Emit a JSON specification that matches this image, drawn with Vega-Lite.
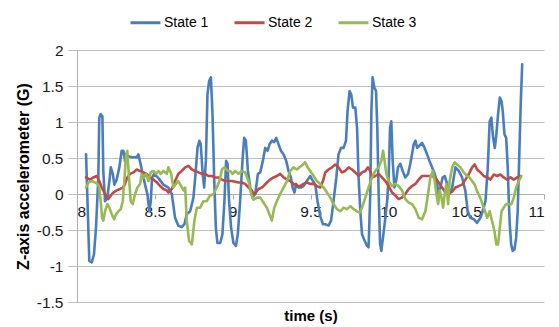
{
  "$schema": "https://vega.github.io/schema/vega-lite/v6.json",
  "width": 467,
  "height": 252,
  "autosize": {"type": "none"},
  "padding": {"left": 77, "top": 50, "right": 15, "bottom": 25},
  "background": "white",
  "config": {
    "view": {"stroke": null},
    "font": "Liberation Sans",
    "locale": {"number": {"decimal": ".", "thousands": ",", "grouping": [3], "currency": ["$", ""], "minus": "-"}}
  },
  "data": {"values": [
    {"time":8.058,"g":0.55,"state":"State 1"},{"time":8.066,"g":0,"state":"State 1"},{"time":8.079,"g":-0.93,"state":"State 1"},{"time":8.095,"g":-0.95,"state":"State 1"},{"time":8.109,"g":-0.84,"state":"State 1"},{"time":8.122,"g":-0.47,"state":"State 1"},{"time":8.137,"g":0.23,"state":"State 1"},{"time":8.143,"g":1.06,"state":"State 1"},{"time":8.152,"g":1.11,"state":"State 1"},{"time":8.163,"g":1.08,"state":"State 1"},{"time":8.169,"g":0.32,"state":"State 1"},{"time":8.180,"g":-0.1,"state":"State 1"},{"time":8.195,"g":-0.05,"state":"State 1"},{"time":8.208,"g":0.18,"state":"State 1"},{"time":8.217,"g":0.37,"state":"State 1"},{"time":8.230,"g":0.28,"state":"State 1"},{"time":8.240,"g":0.13,"state":"State 1"},{"time":8.255,"g":0.2,"state":"State 1"},{"time":8.272,"g":0.37,"state":"State 1"},{"time":8.287,"g":0.6,"state":"State 1"},{"time":8.298,"g":0.6,"state":"State 1"},{"time":8.309,"g":0.45,"state":"State 1"},{"time":8.320,"g":0.53,"state":"State 1"},{"time":8.352,"g":0.51,"state":"State 1"},{"time":8.384,"g":0.51,"state":"State 1"},{"time":8.394,"g":0.55,"state":"State 1"},{"time":8.405,"g":0.45,"state":"State 1"},{"time":8.423,"g":0.27,"state":"State 1"},{"time":8.437,"g":0.13,"state":"State 1"},{"time":8.452,"g":0,"state":"State 1"},{"time":8.465,"g":-0.24,"state":"State 1"},{"time":8.474,"g":-0.1,"state":"State 1"},{"time":8.482,"g":0.22,"state":"State 1"},{"time":8.495,"g":0.28,"state":"State 1"},{"time":8.523,"g":0.22,"state":"State 1"},{"time":8.555,"g":0.13,"state":"State 1"},{"time":8.587,"g":0.09,"state":"State 1"},{"time":8.609,"g":0,"state":"State 1"},{"time":8.630,"g":-0.33,"state":"State 1"},{"time":8.651,"g":-0.44,"state":"State 1"},{"time":8.673,"g":-0.46,"state":"State 1"},{"time":8.690,"g":-0.42,"state":"State 1"},{"time":8.705,"g":-0.28,"state":"State 1"},{"time":8.727,"g":-0.24,"state":"State 1"},{"time":8.748,"g":-0.05,"state":"State 1"},{"time":8.763,"g":0.32,"state":"State 1"},{"time":8.774,"g":0.64,"state":"State 1"},{"time":8.786,"g":0.74,"state":"State 1"},{"time":8.795,"g":0.69,"state":"State 1"},{"time":8.806,"g":0.32,"state":"State 1"},{"time":8.817,"g":0.09,"state":"State 1"},{"time":8.828,"g":0.46,"state":"State 1"},{"time":8.838,"g":1.38,"state":"State 1"},{"time":8.849,"g":1.57,"state":"State 1"},{"time":8.860,"g":1.62,"state":"State 1"},{"time":8.870,"g":1.15,"state":"State 1"},{"time":8.881,"g":0.23,"state":"State 1"},{"time":8.892,"g":-0.47,"state":"State 1"},{"time":8.902,"g":-0.68,"state":"State 1"},{"time":8.920,"g":-0.68,"state":"State 1"},{"time":8.934,"g":-0.56,"state":"State 1"},{"time":8.947,"g":-0.1,"state":"State 1"},{"time":8.958,"g":0.46,"state":"State 1"},{"time":8.967,"g":0.42,"state":"State 1"},{"time":8.977,"g":-0.1,"state":"State 1"},{"time":8.990,"g":-0.47,"state":"State 1"},{"time":9.005,"g":-0.68,"state":"State 1"},{"time":9.021,"g":-0.72,"state":"State 1"},{"time":9.033,"g":-0.56,"state":"State 1"},{"time":9.048,"g":-0.1,"state":"State 1"},{"time":9.063,"g":0.46,"state":"State 1"},{"time":9.074,"g":0.78,"state":"State 1"},{"time":9.085,"g":0.74,"state":"State 1"},{"time":9.098,"g":0.32,"state":"State 1"},{"time":9.113,"g":0.09,"state":"State 1"},{"time":9.127,"g":-0.05,"state":"State 1"},{"time":9.145,"g":0,"state":"State 1"},{"time":9.162,"g":0.28,"state":"State 1"},{"time":9.177,"g":0.3,"state":"State 1"},{"time":9.194,"g":0.46,"state":"State 1"},{"time":9.209,"g":0.64,"state":"State 1"},{"time":9.224,"g":0.6,"state":"State 1"},{"time":9.237,"g":0.69,"state":"State 1"},{"time":9.252,"g":0.74,"state":"State 1"},{"time":9.267,"g":0.72,"state":"State 1"},{"time":9.280,"g":0.78,"state":"State 1"},{"time":9.295,"g":0.69,"state":"State 1"},{"time":9.310,"g":0.6,"state":"State 1"},{"time":9.327,"g":0.55,"state":"State 1"},{"time":9.344,"g":0.46,"state":"State 1"},{"time":9.359,"g":0.32,"state":"State 1"},{"time":9.374,"g":0.23,"state":"State 1"},{"time":9.385,"g":0.09,"state":"State 1"},{"time":9.397,"g":0.02,"state":"State 1"},{"time":9.408,"g":0.14,"state":"State 1"},{"time":9.423,"g":0.09,"state":"State 1"},{"time":9.439,"g":0.09,"state":"State 1"},{"time":9.455,"g":0.11,"state":"State 1"},{"time":9.477,"g":0.18,"state":"State 1"},{"time":9.498,"g":0.25,"state":"State 1"},{"time":9.516,"g":0.18,"state":"State 1"},{"time":9.531,"g":0.13,"state":"State 1"},{"time":9.545,"g":-0.1,"state":"State 1"},{"time":9.563,"g":-0.31,"state":"State 1"},{"time":9.580,"g":-0.42,"state":"State 1"},{"time":9.595,"g":-0.42,"state":"State 1"},{"time":9.616,"g":-0.44,"state":"State 1"},{"time":9.632,"g":-0.37,"state":"State 1"},{"time":9.648,"g":-0.1,"state":"State 1"},{"time":9.666,"g":0.23,"state":"State 1"},{"time":9.680,"g":0.55,"state":"State 1"},{"time":9.696,"g":0.64,"state":"State 1"},{"time":9.713,"g":0.64,"state":"State 1"},{"time":9.728,"g":0.74,"state":"State 1"},{"time":9.738,"g":1.15,"state":"State 1"},{"time":9.751,"g":1.43,"state":"State 1"},{"time":9.762,"g":1.38,"state":"State 1"},{"time":9.773,"g":1.2,"state":"State 1"},{"time":9.788,"g":1.2,"state":"State 1"},{"time":9.799,"g":0.92,"state":"State 1"},{"time":9.809,"g":0.23,"state":"State 1"},{"time":9.820,"g":-0.24,"state":"State 1"},{"time":9.831,"g":-0.56,"state":"State 1"},{"time":9.848,"g":-0.65,"state":"State 1"},{"time":9.863,"g":-0.72,"state":"State 1"},{"time":9.873,"g":-0.74,"state":"State 1"},{"time":9.884,"g":0,"state":"State 1"},{"time":9.891,"g":1.15,"state":"State 1"},{"time":9.899,"g":1.62,"state":"State 1"},{"time":9.910,"g":1.48,"state":"State 1"},{"time":9.921,"g":1.43,"state":"State 1"},{"time":9.929,"g":0.92,"state":"State 1"},{"time":9.938,"g":0,"state":"State 1"},{"time":9.947,"g":-0.69,"state":"State 1"},{"time":9.955,"g":-0.79,"state":"State 1"},{"time":9.966,"g":-0.6,"state":"State 1"},{"time":9.981,"g":-0.33,"state":"State 1"},{"time":9.992,"g":-0.1,"state":"State 1"},{"time":10.002,"g":0.23,"state":"State 1"},{"time":10.011,"g":0.92,"state":"State 1"},{"time":10.019,"g":1.01,"state":"State 1"},{"time":10.028,"g":0.46,"state":"State 1"},{"time":10.039,"g":0.09,"state":"State 1"},{"time":10.050,"g":0.18,"state":"State 1"},{"time":10.062,"g":0.37,"state":"State 1"},{"time":10.077,"g":0.42,"state":"State 1"},{"time":10.092,"g":0.32,"state":"State 1"},{"time":10.109,"g":0.23,"state":"State 1"},{"time":10.127,"g":0.28,"state":"State 1"},{"time":10.141,"g":0.42,"state":"State 1"},{"time":10.152,"g":0.55,"state":"State 1"},{"time":10.163,"g":0.69,"state":"State 1"},{"time":10.174,"g":0.74,"state":"State 1"},{"time":10.185,"g":0.64,"state":"State 1"},{"time":10.199,"g":0.67,"state":"State 1"},{"time":10.217,"g":0.71,"state":"State 1"},{"time":10.233,"g":0.64,"state":"State 1"},{"time":10.249,"g":0.55,"state":"State 1"},{"time":10.264,"g":0.46,"state":"State 1"},{"time":10.281,"g":0.37,"state":"State 1"},{"time":10.298,"g":0.28,"state":"State 1"},{"time":10.313,"g":0.14,"state":"State 1"},{"time":10.323,"g":0,"state":"State 1"},{"time":10.334,"g":0.09,"state":"State 1"},{"time":10.349,"g":0.23,"state":"State 1"},{"time":10.362,"g":0.25,"state":"State 1"},{"time":10.378,"g":0.14,"state":"State 1"},{"time":10.392,"g":0,"state":"State 1"},{"time":10.410,"g":0.09,"state":"State 1"},{"time":10.431,"g":0.37,"state":"State 1"},{"time":10.452,"g":0.32,"state":"State 1"},{"time":10.474,"g":0.23,"state":"State 1"},{"time":10.495,"g":0.04,"state":"State 1"},{"time":10.510,"g":-0.24,"state":"State 1"},{"time":10.527,"g":-0.33,"state":"State 1"},{"time":10.549,"g":-0.35,"state":"State 1"},{"time":10.570,"g":-0.4,"state":"State 1"},{"time":10.592,"g":-0.33,"state":"State 1"},{"time":10.606,"g":-0.24,"state":"State 1"},{"time":10.624,"g":-0.1,"state":"State 1"},{"time":10.639,"g":0.37,"state":"State 1"},{"time":10.651,"g":1.01,"state":"State 1"},{"time":10.662,"g":1.06,"state":"State 1"},{"time":10.673,"g":0.78,"state":"State 1"},{"time":10.684,"g":0.64,"state":"State 1"},{"time":10.694,"g":0.83,"state":"State 1"},{"time":10.705,"g":1.11,"state":"State 1"},{"time":10.716,"g":1.34,"state":"State 1"},{"time":10.727,"g":1.29,"state":"State 1"},{"time":10.735,"g":1.15,"state":"State 1"},{"time":10.746,"g":0.83,"state":"State 1"},{"time":10.757,"g":0.78,"state":"State 1"},{"time":10.767,"g":0.37,"state":"State 1"},{"time":10.774,"g":-0.1,"state":"State 1"},{"time":10.780,"g":-0.42,"state":"State 1"},{"time":10.789,"g":-0.7,"state":"State 1"},{"time":10.799,"g":-0.79,"state":"State 1"},{"time":10.810,"g":-0.77,"state":"State 1"},{"time":10.821,"g":-0.61,"state":"State 1"},{"time":10.831,"g":-0.24,"state":"State 1"},{"time":10.842,"g":0.6,"state":"State 1"},{"time":10.851,"g":1.29,"state":"State 1"},{"time":10.860,"g":1.8,"state":"State 1"},

    {"time":8.058,"g":0.23,"state":"State 2"},{"time":8.084,"g":0.2,"state":"State 2"},{"time":8.105,"g":0.23,"state":"State 2"},{"time":8.127,"g":0.25,"state":"State 2"},{"time":8.143,"g":0.18,"state":"State 2"},{"time":8.159,"g":0.09,"state":"State 2"},{"time":8.180,"g":0,"state":"State 2"},{"time":8.201,"g":-0.07,"state":"State 2"},{"time":8.217,"g":-0.02,"state":"State 2"},{"time":8.233,"g":0.02,"state":"State 2"},{"time":8.255,"g":0.05,"state":"State 2"},{"time":8.277,"g":0.07,"state":"State 2"},{"time":8.294,"g":0.09,"state":"State 2"},{"time":8.309,"g":0.14,"state":"State 2"},{"time":8.323,"g":0.23,"state":"State 2"},{"time":8.341,"g":0.28,"state":"State 2"},{"time":8.362,"g":0.3,"state":"State 2"},{"time":8.384,"g":0.34,"state":"State 2"},{"time":8.405,"g":0.32,"state":"State 2"},{"time":8.426,"g":0.3,"state":"State 2"},{"time":8.448,"g":0.28,"state":"State 2"},{"time":8.469,"g":0.23,"state":"State 2"},{"time":8.491,"g":0.2,"state":"State 2"},{"time":8.513,"g":0.16,"state":"State 2"},{"time":8.534,"g":0.11,"state":"State 2"},{"time":8.555,"g":0.07,"state":"State 2"},{"time":8.577,"g":0.05,"state":"State 2"},{"time":8.587,"g":0.02,"state":"State 2"},{"time":8.609,"g":0.07,"state":"State 2"},{"time":8.630,"g":0.18,"state":"State 2"},{"time":8.651,"g":0.28,"state":"State 2"},{"time":8.673,"g":0.32,"state":"State 2"},{"time":8.695,"g":0.37,"state":"State 2"},{"time":8.716,"g":0.39,"state":"State 2"},{"time":8.738,"g":0.34,"state":"State 2"},{"time":8.759,"g":0.32,"state":"State 2"},{"time":8.780,"g":0.3,"state":"State 2"},{"time":8.802,"g":0.28,"state":"State 2"},{"time":8.823,"g":0.28,"state":"State 2"},{"time":8.844,"g":0.25,"state":"State 2"},{"time":8.866,"g":0.25,"state":"State 2"},{"time":8.887,"g":0.23,"state":"State 2"},{"time":8.909,"g":0.23,"state":"State 2"},{"time":8.931,"g":0.2,"state":"State 2"},{"time":8.952,"g":0.18,"state":"State 2"},{"time":8.973,"g":0.18,"state":"State 2"},{"time":8.995,"g":0.18,"state":"State 2"},{"time":9.016,"g":0.17,"state":"State 2"},{"time":9.037,"g":0.16,"state":"State 2"},{"time":9.059,"g":0.16,"state":"State 2"},{"time":9.080,"g":0.14,"state":"State 2"},{"time":9.102,"g":0.09,"state":"State 2"},{"time":9.123,"g":0.05,"state":"State 2"},{"time":9.134,"g":0,"state":"State 2"},{"time":9.149,"g":0.02,"state":"State 2"},{"time":9.166,"g":0.07,"state":"State 2"},{"time":9.188,"g":0.09,"state":"State 2"},{"time":9.198,"g":0.11,"state":"State 2"},{"time":9.220,"g":0.16,"state":"State 2"},{"time":9.241,"g":0.2,"state":"State 2"},{"time":9.262,"g":0.23,"state":"State 2"},{"time":9.284,"g":0.25,"state":"State 2"},{"time":9.305,"g":0.28,"state":"State 2"},{"time":9.327,"g":0.23,"state":"State 2"},{"time":9.349,"g":0.2,"state":"State 2"},{"time":9.370,"g":0.18,"state":"State 2"},{"time":9.391,"g":0.14,"state":"State 2"},{"time":9.413,"g":0.11,"state":"State 2"},{"time":9.434,"g":0.11,"state":"State 2"},{"time":9.455,"g":0.14,"state":"State 2"},{"time":9.477,"g":0.16,"state":"State 2"},{"time":9.498,"g":0.14,"state":"State 2"},{"time":9.520,"g":0.14,"state":"State 2"},{"time":9.541,"g":0.11,"state":"State 2"},{"time":9.563,"g":0.09,"state":"State 2"},{"time":9.580,"g":0.18,"state":"State 2"},{"time":9.595,"g":0.3,"state":"State 2"},{"time":9.616,"g":0.34,"state":"State 2"},{"time":9.638,"g":0.37,"state":"State 2"},{"time":9.659,"g":0.41,"state":"State 2"},{"time":9.680,"g":0.37,"state":"State 2"},{"time":9.702,"g":0.3,"state":"State 2"},{"time":9.723,"g":0.32,"state":"State 2"},{"time":9.745,"g":0.37,"state":"State 2"},{"time":9.767,"g":0.34,"state":"State 2"},{"time":9.788,"g":0.3,"state":"State 2"},{"time":9.809,"g":0.25,"state":"State 2"},{"time":9.831,"g":0.3,"state":"State 2"},{"time":9.852,"g":0.32,"state":"State 2"},{"time":9.869,"g":0.37,"state":"State 2"},{"time":9.884,"g":0.32,"state":"State 2"},{"time":9.895,"g":0.23,"state":"State 2"},{"time":9.916,"g":0.25,"state":"State 2"},{"time":9.938,"g":0.28,"state":"State 2"},{"time":9.959,"g":0.23,"state":"State 2"},{"time":9.981,"g":0.18,"state":"State 2"},{"time":10.002,"g":0.11,"state":"State 2"},{"time":10.024,"g":0.02,"state":"State 2"},{"time":10.045,"g":-0.02,"state":"State 2"},{"time":10.066,"g":-0.07,"state":"State 2"},{"time":10.088,"g":-0.05,"state":"State 2"},{"time":10.109,"g":0,"state":"State 2"},{"time":10.131,"g":0.07,"state":"State 2"},{"time":10.152,"g":0.11,"state":"State 2"},{"time":10.174,"g":0.14,"state":"State 2"},{"time":10.195,"g":0.2,"state":"State 2"},{"time":10.217,"g":0.25,"state":"State 2"},{"time":10.238,"g":0.25,"state":"State 2"},{"time":10.259,"g":0.25,"state":"State 2"},{"time":10.281,"g":0.25,"state":"State 2"},{"time":10.302,"g":0.23,"state":"State 2"},{"time":10.323,"g":0.16,"state":"State 2"},{"time":10.345,"g":0.09,"state":"State 2"},{"time":10.367,"g":0.02,"state":"State 2"},{"time":10.388,"g":0.01,"state":"State 2"},{"time":10.410,"g":0.03,"state":"State 2"},{"time":10.431,"g":0.09,"state":"State 2"},{"time":10.452,"g":0.11,"state":"State 2"},{"time":10.474,"g":0.13,"state":"State 2"},{"time":10.495,"g":0.2,"state":"State 2"},{"time":10.516,"g":0.27,"state":"State 2"},{"time":10.538,"g":0.37,"state":"State 2"},{"time":10.555,"g":0.41,"state":"State 2"},{"time":10.570,"g":0.34,"state":"State 2"},{"time":10.592,"g":0.3,"state":"State 2"},{"time":10.613,"g":0.25,"state":"State 2"},{"time":10.635,"g":0.23,"state":"State 2"},{"time":10.656,"g":0.2,"state":"State 2"},{"time":10.677,"g":0.27,"state":"State 2"},{"time":10.699,"g":0.25,"state":"State 2"},{"time":10.720,"g":0.27,"state":"State 2"},{"time":10.741,"g":0.23,"state":"State 2"},{"time":10.763,"g":0.2,"state":"State 2"},{"time":10.785,"g":0.23,"state":"State 2"},{"time":10.806,"g":0.2,"state":"State 2"},{"time":10.828,"g":0.23,"state":"State 2"},{"time":10.849,"g":0.25,"state":"State 2"},

    {"time":8.058,"g":0.09,"state":"State 3"},{"time":8.073,"g":0.16,"state":"State 3"},{"time":8.095,"g":0.18,"state":"State 3"},{"time":8.116,"g":0.16,"state":"State 3"},{"time":8.131,"g":0.14,"state":"State 3"},{"time":8.143,"g":0.09,"state":"State 3"},{"time":8.152,"g":-0.1,"state":"State 3"},{"time":8.161,"g":-0.33,"state":"State 3"},{"time":8.169,"g":-0.37,"state":"State 3"},{"time":8.180,"g":-0.24,"state":"State 3"},{"time":8.195,"g":-0.14,"state":"State 3"},{"time":8.208,"g":-0.19,"state":"State 3"},{"time":8.223,"g":-0.28,"state":"State 3"},{"time":8.238,"g":-0.35,"state":"State 3"},{"time":8.251,"g":-0.28,"state":"State 3"},{"time":8.266,"g":-0.24,"state":"State 3"},{"time":8.281,"g":-0.21,"state":"State 3"},{"time":8.294,"g":-0.1,"state":"State 3"},{"time":8.304,"g":0.18,"state":"State 3"},{"time":8.315,"g":0.55,"state":"State 3"},{"time":8.323,"g":0.6,"state":"State 3"},{"time":8.334,"g":0.23,"state":"State 3"},{"time":8.345,"g":-0.1,"state":"State 3"},{"time":8.358,"g":-0.14,"state":"State 3"},{"time":8.373,"g":0,"state":"State 3"},{"time":8.388,"g":0.09,"state":"State 3"},{"time":8.405,"g":0.14,"state":"State 3"},{"time":8.416,"g":0.28,"state":"State 3"},{"time":8.431,"g":0.23,"state":"State 3"},{"time":8.444,"g":0.28,"state":"State 3"},{"time":8.459,"g":0.18,"state":"State 3"},{"time":8.474,"g":0.3,"state":"State 3"},{"time":8.491,"g":0.32,"state":"State 3"},{"time":8.508,"g":0.28,"state":"State 3"},{"time":8.523,"g":0.32,"state":"State 3"},{"time":8.538,"g":0.28,"state":"State 3"},{"time":8.555,"g":0.32,"state":"State 3"},{"time":8.577,"g":0.28,"state":"State 3"},{"time":8.587,"g":0.37,"state":"State 3"},{"time":8.605,"g":0.28,"state":"State 3"},{"time":8.619,"g":0.09,"state":"State 3"},{"time":8.635,"g":0.14,"state":"State 3"},{"time":8.651,"g":0.18,"state":"State 3"},{"time":8.669,"g":0.11,"state":"State 3"},{"time":8.684,"g":0.05,"state":"State 3"},{"time":8.695,"g":0.09,"state":"State 3"},{"time":8.705,"g":-0.37,"state":"State 3"},{"time":8.720,"g":-0.65,"state":"State 3"},{"time":8.738,"g":-0.7,"state":"State 3"},{"time":8.754,"g":-0.37,"state":"State 3"},{"time":8.770,"g":-0.19,"state":"State 3"},{"time":8.791,"g":-0.19,"state":"State 3"},{"time":8.812,"g":-0.1,"state":"State 3"},{"time":8.834,"g":-0.1,"state":"State 3"},{"time":8.855,"g":-0.02,"state":"State 3"},{"time":8.877,"g":0,"state":"State 3"},{"time":8.898,"g":0.09,"state":"State 3"},{"time":8.915,"g":0.18,"state":"State 3"},{"time":8.931,"g":0.34,"state":"State 3"},{"time":8.947,"g":0.37,"state":"State 3"},{"time":8.969,"g":0.32,"state":"State 3"},{"time":8.984,"g":0.32,"state":"State 3"},{"time":8.999,"g":0.28,"state":"State 3"},{"time":9.016,"g":0.32,"state":"State 3"},{"time":9.037,"g":0.28,"state":"State 3"},{"time":9.059,"g":0.32,"state":"State 3"},{"time":9.080,"g":0.3,"state":"State 3"},{"time":9.102,"g":0.18,"state":"State 3"},{"time":9.119,"g":0,"state":"State 3"},{"time":9.134,"g":-0.08,"state":"State 3"},{"time":9.156,"g":-0.05,"state":"State 3"},{"time":9.177,"g":-0.05,"state":"State 3"},{"time":9.198,"g":-0.12,"state":"State 3"},{"time":9.220,"g":-0.19,"state":"State 3"},{"time":9.236,"g":-0.28,"state":"State 3"},{"time":9.252,"g":-0.37,"state":"State 3"},{"time":9.267,"g":-0.19,"state":"State 3"},{"time":9.284,"g":-0.1,"state":"State 3"},{"time":9.305,"g":0,"state":"State 3"},{"time":9.327,"g":0.09,"state":"State 3"},{"time":9.349,"g":0.18,"state":"State 3"},{"time":9.370,"g":0.32,"state":"State 3"},{"time":9.391,"g":0.37,"state":"State 3"},{"time":9.413,"g":0.34,"state":"State 3"},{"time":9.430,"g":0.37,"state":"State 3"},{"time":9.451,"g":0.41,"state":"State 3"},{"time":9.466,"g":0.44,"state":"State 3"},{"time":9.481,"g":0.37,"state":"State 3"},{"time":9.498,"g":0.32,"state":"State 3"},{"time":9.520,"g":0.25,"state":"State 3"},{"time":9.541,"g":0.18,"state":"State 3"},{"time":9.563,"g":0.14,"state":"State 3"},{"time":9.584,"g":0.09,"state":"State 3"},{"time":9.606,"g":0.02,"state":"State 3"},{"time":9.627,"g":-0.05,"state":"State 3"},{"time":9.648,"g":-0.14,"state":"State 3"},{"time":9.670,"g":-0.21,"state":"State 3"},{"time":9.691,"g":-0.24,"state":"State 3"},{"time":9.713,"g":-0.19,"state":"State 3"},{"time":9.734,"g":-0.21,"state":"State 3"},{"time":9.756,"g":-0.17,"state":"State 3"},{"time":9.777,"g":-0.21,"state":"State 3"},{"time":9.799,"g":-0.24,"state":"State 3"},{"time":9.815,"g":-0.26,"state":"State 3"},{"time":9.831,"g":-0.19,"state":"State 3"},{"time":9.852,"g":-0.05,"state":"State 3"},{"time":9.873,"g":0.09,"state":"State 3"},{"time":9.895,"g":0.23,"state":"State 3"},{"time":9.916,"g":0.32,"state":"State 3"},{"time":9.938,"g":0.37,"state":"State 3"},{"time":9.955,"g":0.46,"state":"State 3"},{"time":9.966,"g":0.6,"state":"State 3"},{"time":9.976,"g":0.46,"state":"State 3"},{"time":9.987,"g":0.28,"state":"State 3"},{"time":10.002,"g":0.18,"state":"State 3"},{"time":10.024,"g":0.11,"state":"State 3"},{"time":10.045,"g":0.14,"state":"State 3"},{"time":10.066,"g":0.11,"state":"State 3"},{"time":10.088,"g":0.05,"state":"State 3"},{"time":10.109,"g":-0.07,"state":"State 3"},{"time":10.131,"g":-0.12,"state":"State 3"},{"time":10.152,"g":-0.14,"state":"State 3"},{"time":10.174,"g":-0.21,"state":"State 3"},{"time":10.195,"g":-0.33,"state":"State 3"},{"time":10.217,"g":-0.35,"state":"State 3"},{"time":10.238,"g":-0.24,"state":"State 3"},{"time":10.255,"g":0,"state":"State 3"},{"time":10.270,"g":0.23,"state":"State 3"},{"time":10.285,"g":0.32,"state":"State 3"},{"time":10.298,"g":0.18,"state":"State 3"},{"time":10.309,"g":0,"state":"State 3"},{"time":10.320,"g":-0.14,"state":"State 3"},{"time":10.330,"g":0.05,"state":"State 3"},{"time":10.341,"g":-0.05,"state":"State 3"},{"time":10.352,"g":-0.19,"state":"State 3"},{"time":10.362,"g":0,"state":"State 3"},{"time":10.373,"g":0.14,"state":"State 3"},{"time":10.384,"g":-0.14,"state":"State 3"},{"time":10.394,"g":0.18,"state":"State 3"},{"time":10.410,"g":0.37,"state":"State 3"},{"time":10.426,"g":0.44,"state":"State 3"},{"time":10.442,"g":0.41,"state":"State 3"},{"time":10.463,"g":0.37,"state":"State 3"},{"time":10.484,"g":0.3,"state":"State 3"},{"time":10.506,"g":0.25,"state":"State 3"},{"time":10.521,"g":0.23,"state":"State 3"},{"time":10.538,"g":0.18,"state":"State 3"},{"time":10.555,"g":0.13,"state":"State 3"},{"time":10.570,"g":0.04,"state":"State 3"},{"time":10.592,"g":-0.06,"state":"State 3"},{"time":10.613,"g":-0.19,"state":"State 3"},{"time":10.635,"g":-0.33,"state":"State 3"},{"time":10.651,"g":-0.24,"state":"State 3"},{"time":10.667,"g":-0.38,"state":"State 3"},{"time":10.682,"g":-0.52,"state":"State 3"},{"time":10.694,"g":-0.7,"state":"State 3"},{"time":10.705,"g":-0.7,"state":"State 3"},{"time":10.716,"g":-0.47,"state":"State 3"},{"time":10.727,"g":-0.24,"state":"State 3"},{"time":10.741,"g":-0.19,"state":"State 3"},{"time":10.757,"g":-0.14,"state":"State 3"},{"time":10.774,"g":-0.14,"state":"State 3"},{"time":10.791,"g":-0.14,"state":"State 3"},{"time":10.806,"g":-0.05,"state":"State 3"},{"time":10.821,"g":0.09,"state":"State 3"},{"time":10.838,"g":0.18,"state":"State 3"},{"time":10.855,"g":0.25,"state":"State 3"}
  ]},
  "mark": {"type": "line", "strokeWidth": 2.6, "strokeJoin": "round", "strokeCap": "round"},
  "encoding": {
    "x": {
      "field": "time", "type": "quantitative",
      "scale": {"domain": [8, 11], "nice": false, "zero": false},
      "axis": {
        "title": "time (s)", "titleFontSize": 15, "titleFontWeight": "bold", "titleColor": "#000",
        "titleY": 126, "titleBaseline": "alphabetic",
        "values": [8, 8.5, 9, 9.5, 10, 10.5, 11], "format": "~g",
        "offset": -108, "grid": false,
        "domainColor": "#b0b0b0", "tickColor": "#b0b0b0", "tickSize": 5, "ticks": true,
        "labelFontSize": 15.5, "labelColor": "#1a1a1a", "labelPadding": 5
      }
    },
    "y": {
      "field": "g", "type": "quantitative",
      "scale": {"domain": [-1.5, 2], "nice": false, "zero": false},
      "axis": {
        "title": "Z-axis accelerometer (G)", "titleFontSize": 16, "titleFontWeight": "bold", "titleColor": "#000",
        "titlePadding": 5,
        "values": [-1.5, -1, -0.5, 0, 0.5, 1, 1.5, 2], "format": "~g",
        "grid": true, "gridColor": "#c0c0c0", "gridWidth": 1,
        "domainColor": "#b0b0b0", "tickColor": "#c0c0c0", "tickSize": 9,
        "labelFontSize": 15.5, "labelColor": "#1a1a1a", "labelPadding": 5
      }
    },
    "color": {
      "field": "state", "type": "nominal",
      "scale": {"domain": ["State 1", "State 2", "State 3"], "range": ["#4a7ebb", "#be4b48", "#98b954"]},
      "legend": {
        "title": null, "orient": "none", "legendX": 52, "legendY": -44, "direction": "horizontal",
        "symbolType": "stroke", "symbolSize": 900, "symbolStrokeWidth": 3,
        "labelFontSize": 14, "labelColor": "#000", "labelOffset": 2, "columnPadding": 19, "padding": 0
      }
    }
  }
}
